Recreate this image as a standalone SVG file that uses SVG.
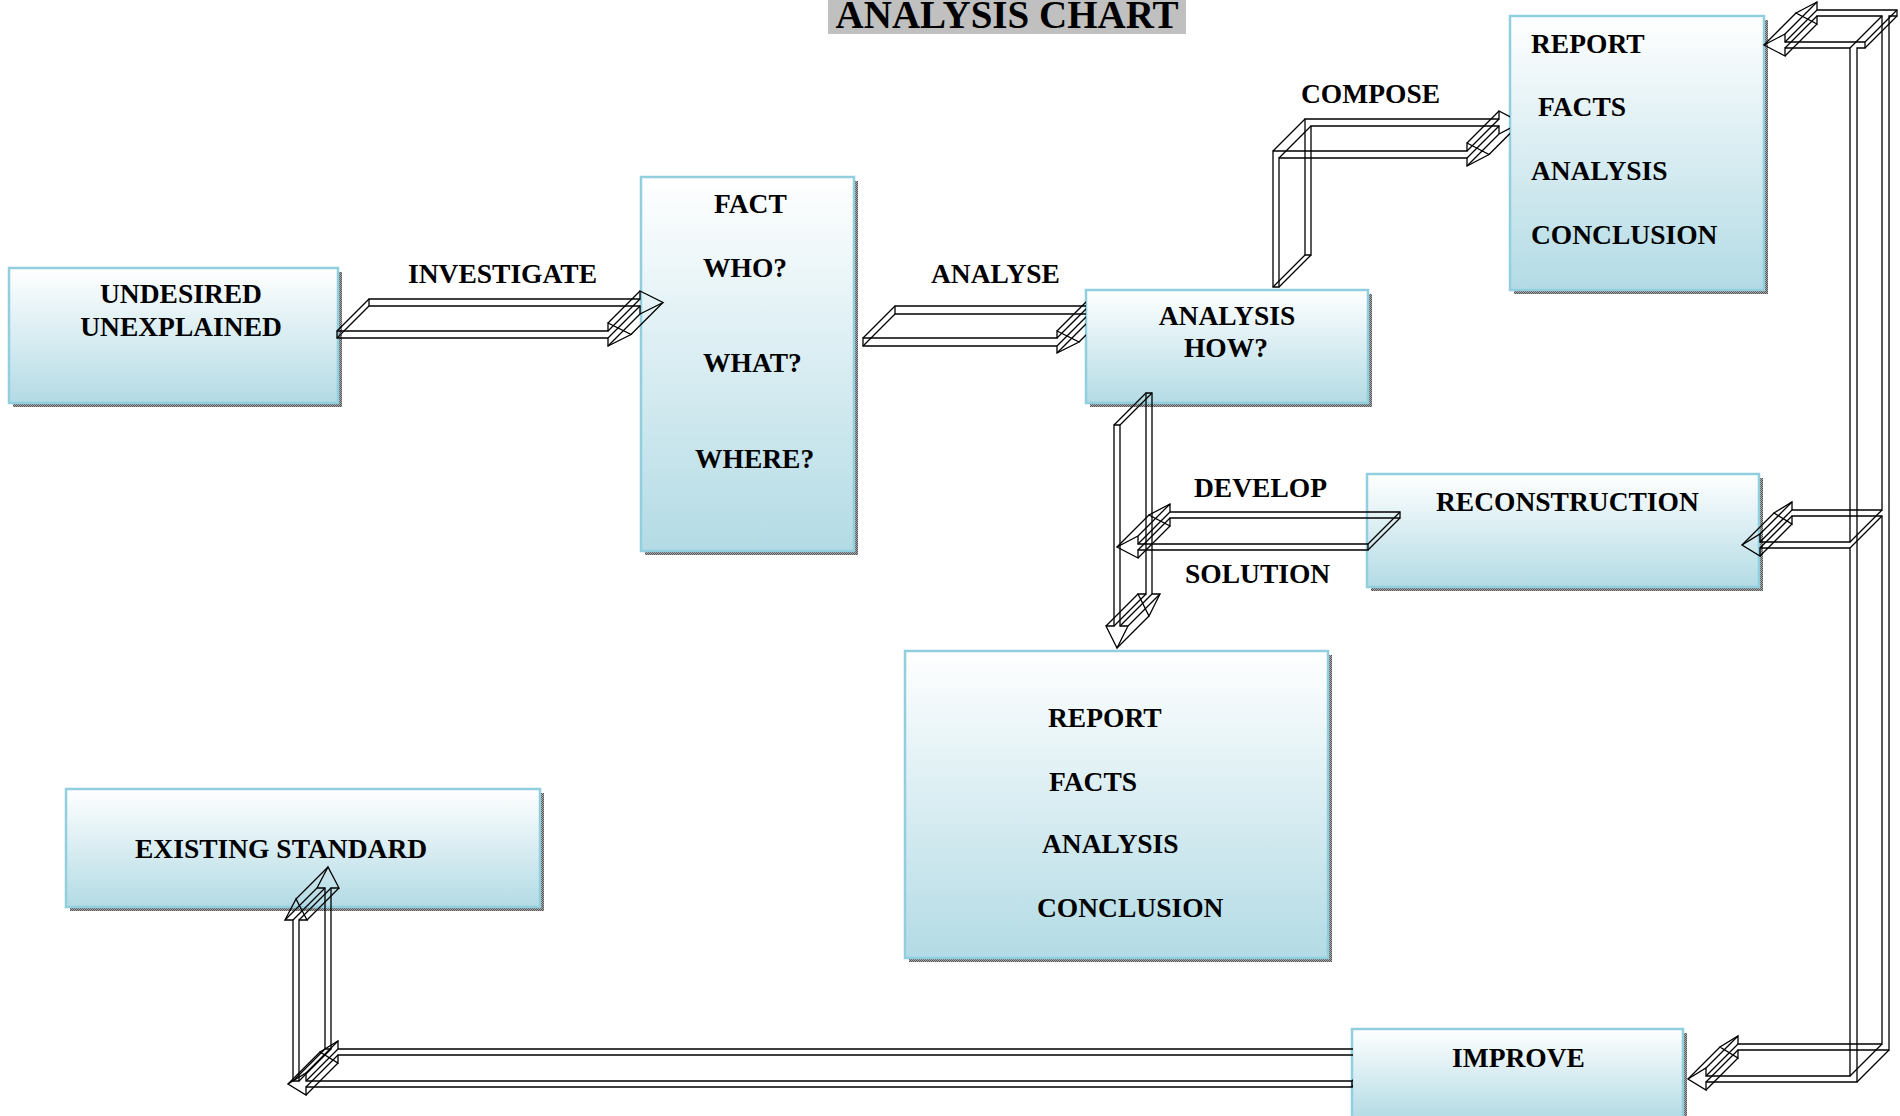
<svg xmlns="http://www.w3.org/2000/svg" width="1900" height="1116" viewBox="0 0 1900 1116">
<defs>
<linearGradient id="g" x1="0" y1="0" x2="0" y2="1">
<stop offset="0" stop-color="#ffffff"/>
<stop offset="1" stop-color="#b3dbe5"/>
</linearGradient>
<pattern id="hatch" width="2" height="2" patternUnits="userSpaceOnUse">
<rect width="2" height="2" fill="#a8a8a8"/>
<rect width="1" height="1" fill="#555"/>
<rect x="1" y="1" width="1" height="1" fill="#555"/>
</pattern>
<clipPath id="clipA"><rect x="0" y="0" width="1086" height="1116"/></clipPath>
<clipPath id="clipC"><rect x="0" y="0" width="1510" height="1116"/></clipPath>
<clipPath id="clipI"><rect x="0" y="0" width="1353" height="1116"/></clipPath>
</defs>
<style>
.shadow{fill:url(#hatch)}
.box{fill:url(#g);stroke:#92cfde;stroke-width:2.5}
.t{font-family:"Liberation Serif","Times New Roman",serif;font-weight:bold;font-size:27.5px;fill:#000}
.c{text-anchor:middle}
.arw{fill:none;stroke:#000;stroke-width:1.3;stroke-linejoin:miter}
</style>
<rect width="1900" height="1116" fill="#ffffff"/>

<g id="title">
<rect x="828" y="-4" width="358" height="38" fill="#c0c0c0"/>
<text x="1007" y="28" class="t c" style="font-size:39px">ANALYSIS CHART</text>
</g>

<g id="node-undesired">
<rect class="shadow" x="13" y="272" width="329" height="135"/>
<rect class="box" x="9" y="268" width="329" height="135"/>
<text class="t c" x="181" y="303">UNDESIRED</text>
<text class="t c" x="181" y="336">UNEXPLAINED</text>
</g>

<g id="node-fact">
<rect class="shadow" x="645" y="181" width="213" height="374"/>
<rect class="box" x="641" y="177" width="213" height="374"/>
<text class="t" x="714" y="213">FACT</text>
<text class="t" x="703" y="277">WHO?</text>
<text class="t" x="703" y="372">WHAT?</text>
<text class="t" x="695" y="468">WHERE?</text>
</g>

<g id="node-analysis">
<rect class="shadow" x="1090" y="294" width="282" height="113"/>
<rect class="box" x="1086" y="290" width="282" height="113"/>
<text class="t c" x="1227" y="325">ANALYSIS</text>
<text class="t c" x="1226" y="357">HOW?</text>
</g>

<g id="node-report-top">
<rect class="shadow" x="1514" y="20" width="254" height="274"/>
<rect class="box" x="1510" y="16" width="254" height="274"/>
<text class="t" x="1531" y="53">REPORT</text>
<text class="t" x="1538" y="116">FACTS</text>
<text class="t" x="1531" y="180">ANALYSIS</text>
<text class="t" x="1531" y="244">CONCLUSION</text>
</g>

<g id="node-reconstruction">
<rect class="shadow" x="1371" y="478" width="392" height="113"/>
<rect class="box" x="1367" y="474" width="392" height="113"/>
<text class="t" x="1436" y="511">RECONSTRUCTION</text>
</g>

<g id="node-report-main">
<rect class="shadow" x="909" y="655" width="423" height="307"/>
<rect class="box" x="905" y="651" width="423" height="307"/>
<text class="t" x="1048" y="727">REPORT</text>
<text class="t" x="1049" y="791">FACTS</text>
<text class="t" x="1042" y="853">ANALYSIS</text>
<text class="t" x="1037" y="917">CONCLUSION</text>
</g>

<g id="node-existing-standard">
<rect class="shadow" x="70" y="793" width="474" height="118"/>
<rect class="box" x="66" y="789" width="474" height="118"/>
<text class="t" x="135" y="858">EXISTING STANDARD</text>
</g>

<g id="node-improve">
<rect class="shadow" x="1356" y="1033" width="331" height="90"/>
<rect class="box" x="1352" y="1029" width="331" height="90"/>
<text class="t" x="1452" y="1067">IMPROVE</text>
</g>

<g id="connectors">
<g id="c-investigate" class="arw">
<polygon points="337,331 608,331 608,323 631,334.5 608,346 608,338 337,338"/>
<polygon points="337,331 608,331 608,323 631,334.5 608,346 608,338 337,338" transform="translate(32,-32)"/>
<path d="M337 331l32-32M608 331l32-32M608 323l32-32M631 334.5l32-32M608 346l32-32M608 338l32-32M337 338l32-32"/>
</g>
<g id="c-analyse" class="arw" clip-path="url(#clipA)">
<polygon points="863,338 1057,338 1057,331 1079,342 1057,353 1057,346 863,346"/>
<polygon points="863,338 1057,338 1057,331 1079,342 1057,353 1057,346 863,346" transform="translate(32,-32)"/>
<path d="M863 338l32-32M1057 338l32-32M1057 331l32-32M1079 342l32-32M1057 353l32-32M1057 346l32-32M863 346l32-32"/>
</g>
<g id="c-compose" class="arw" clip-path="url(#clipC)">
<polygon points="1273,287 1273,151 1467,151 1467,143 1489,154.5 1467,166 1467,158 1279,158 1279,287"/>
<polygon points="1273,287 1273,151 1467,151 1467,143 1489,154.5 1467,166 1467,158 1279,158 1279,287" transform="translate(32,-32)"/>
<path d="M1273 287l32-32M1273 151l32-32M1467 151l32-32M1467 143l32-32M1489 154.5l32-32M1467 166l32-32M1467 158l32-32M1279 158l32-32M1279 287l32-32"/>
</g>
<g id="c-solution" class="arw">
<polygon points="1114,425 1120,425 1120,626 1128,626 1117,648 1106,626 1114,626"/>
<polygon points="1114,425 1120,425 1120,626 1128,626 1117,648 1106,626 1114,626" transform="translate(32,-32)"/>
<path d="M1114 425l32-32M1120 425l32-32M1120 626l32-32M1128 626l32-32M1117 648l32-32M1106 626l32-32M1114 626l32-32"/>
</g>
<g id="c-develop" class="arw">
<polygon points="1368,544 1138,544 1138,536 1117,547 1138,558 1138,550 1368,550"/>
<polygon points="1368,544 1138,544 1138,536 1117,547 1138,558 1138,550 1368,550" transform="translate(32,-32)"/>
<path d="M1368 544l32-32M1138 544l32-32M1138 536l32-32M1117 547l32-32M1138 558l32-32M1138 550l32-32M1368 550l32-32"/>
</g>
<g id="c-feedback" class="arw">
<polygon points="1865,42 1865,48 1857,48 1857,1082 1706,1082 1706,1090 1688,1079 1706,1068 1706,1076 1850,1076 1850,548 1760,548 1760,556 1742,545 1760,534 1760,542 1850,542 1850,48 1785,48 1785,56 1764,45 1785,34 1785,42"/>
<polygon points="1865,42 1865,48 1857,48 1857,1082 1706,1082 1706,1090 1688,1079 1706,1068 1706,1076 1850,1076 1850,548 1760,548 1760,556 1742,545 1760,534 1760,542 1850,542 1850,48 1785,48 1785,56 1764,45 1785,34 1785,42" transform="translate(32,-32)"/>
<path d="M1865 42l32-32M1865 48l32-32M1857 1082l32-32M1706 1082l32-32M1706 1090l32-32M1688 1079l32-32M1706 1068l32-32M1706 1076l32-32M1850 1076l32-32M1850 548l32-32M1760 548l32-32M1760 556l32-32M1742 545l32-32M1760 534l32-32M1760 542l32-32M1850 542l32-32M1850 48l32-32M1785 48l32-32M1785 56l32-32M1764 45l32-32M1785 34l32-32M1785 42l32-32"/>
</g>
<g id="c-improve-left" class="arw" clip-path="url(#clipI)">
<polygon points="1352,1081 306,1081 306,1073 288,1084 306,1095 306,1087 1352,1087"/>
<polygon points="1352,1081 306,1081 306,1073 288,1084 306,1095 306,1087 1352,1087" transform="translate(32,-32)"/>
<path d="M1352 1081l32-32M306 1081l32-32M306 1073l32-32M288 1084l32-32M306 1095l32-32M306 1087l32-32M1352 1087l32-32"/>
</g>
<g id="c-standard-up" class="arw">
<polygon points="293,1081 293,920 285,920 296,899 307,920 299,920 299,1081"/>
<polygon points="293,1081 293,920 285,920 296,899 307,920 299,920 299,1081" transform="translate(32,-32)"/>
<path d="M293 1081l32-32M293 920l32-32M285 920l32-32M296 899l32-32M307 920l32-32M299 920l32-32M299 1081l32-32"/>
</g>
<text class="t" x="408" y="283">INVESTIGATE</text>
<text class="t" x="931" y="283">ANALYSE</text>
<text class="t" x="1301" y="103">COMPOSE</text>
<text class="t" x="1194" y="497">DEVELOP</text>
<text class="t" x="1185" y="583">SOLUTION</text>
</g>
</svg>
